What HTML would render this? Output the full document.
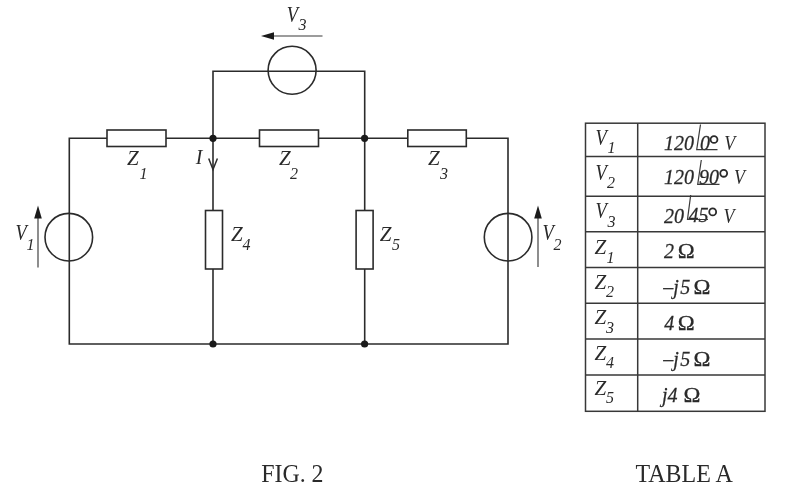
<!DOCTYPE html>
<html>
<head>
<meta charset="utf-8">
<title>FIG. 2 / TABLE A</title>
<style>
html,body{margin:0;padding:0;background:#fff;}
body{width:800px;height:497px;overflow:hidden;}
svg{display:block;will-change:transform;}
text{font-family:"Liberation Serif","Times New Roman",serif;fill:#2a2a2a;}
.i{font-style:italic;}
.w{stroke:#2b2b2b;stroke-width:1.6;fill:none;stroke-linecap:square;}
.r{stroke:#2b2b2b;stroke-width:1.6;fill:#fff;}
.t{stroke:#383838;stroke-width:1.5;fill:none;}
.a{stroke:#3a3a3a;stroke-width:1.15;fill:none;}
.ang{stroke:#3a3a3a;stroke-width:1.2;fill:none;}
.b{stroke:#2a2a2a;stroke-width:.25;}
</style>
</head>
<body>
<svg width="800" height="497" viewBox="0 0 800 497">
<rect width="800" height="497" fill="#fff"/>

<!-- wires -->
<path class="w" d="M69.3 138.3 H508 V344 H69.3 Z"/>
<path class="w" d="M213 138.3 V71.3 H364.7 V138.3"/>
<path class="w" d="M213 138.3 V344"/>
<path class="w" d="M364.7 138.3 V344"/>

<!-- sources -->
<circle class="w" cx="68.8" cy="237.2" r="23.8"/>
<circle class="w" cx="508.1" cy="237.2" r="23.8"/>
<circle class="w" cx="292.1" cy="70.3" r="24"/>

<!-- impedances -->
<rect class="r" x="107" y="130" width="59" height="16.5"/>
<rect class="r" x="259.5" y="130" width="59" height="16.5"/>
<rect class="r" x="407.8" y="130" width="58.5" height="16.5"/>
<rect class="r" x="205.5" y="210.5" width="17" height="58.5"/>
<rect class="r" x="356.1" y="210.5" width="17" height="58.5"/>

<!-- nodes -->
<circle cx="213" cy="138.3" r="3.6" fill="#1a1a1a"/>
<circle cx="364.6" cy="138.3" r="3.6" fill="#1a1a1a"/>
<circle cx="213" cy="344" r="3.6" fill="#1a1a1a"/>
<circle cx="364.6" cy="344" r="3.6" fill="#1a1a1a"/>

<!-- arrows -->
<path class="a" d="M38 267.5 V215"/>
<path d="M38 205.5 L34.2 218.5 H41.8 Z" fill="#1a1a1a"/>
<path class="a" d="M538 267 V215"/>
<path d="M538 205.5 L534.2 218.5 H541.8 Z" fill="#1a1a1a"/>
<path class="a" d="M322.5 36 H272"/>
<path d="M261 36 L274 32.3 V39.7 Z" fill="#1a1a1a"/>
<path d="M208.7 158.5 L213 169.5 L217.4 158.5" stroke="#2b2b2b" stroke-width="1.5" fill="none"/>

<!-- diagram labels -->
<text class="i" transform="translate(286.8 21.5) scale(0.88 1.05)" font-size="21">V</text>
<text class="i" x="298.5" y="30" font-size="16">3</text>

<text class="i" x="127" y="164.7" font-size="21">Z</text>
<text class="i" x="139.5" y="179" font-size="16">1</text>
<text class="i" x="279" y="164.5" font-size="21">Z</text>
<text class="i" x="290" y="179" font-size="16">2</text>
<text class="i" x="428" y="164.5" font-size="21">Z</text>
<text class="i" x="440" y="179" font-size="16">3</text>

<text class="i" x="195.7" y="163.8" font-size="20">I</text>

<text class="i" x="231" y="241" font-size="21">Z</text>
<text class="i" x="242.5" y="249.5" font-size="16">4</text>
<text class="i" x="379.7" y="241" font-size="21">Z</text>
<text class="i" x="392" y="249.5" font-size="16">5</text>

<text class="i" transform="translate(15.5 240) scale(0.88 1.05)" font-size="21">V</text>
<text class="i" x="26.5" y="249.5" font-size="16">1</text>
<text class="i" transform="translate(542.5 240) scale(0.88 1.05)" font-size="21">V</text>
<text class="i" x="553.5" y="249.5" font-size="16">2</text>

<!-- captions -->
<text transform="translate(261.2 482) scale(.995 1.02)" font-size="24">FIG. 2</text>
<text transform="translate(635.5 482) scale(1 1.005)" font-size="24">TABLE A</text>

<!-- table -->
<rect class="t" x="585.5" y="123.2" width="179.5" height="288.1"/>
<path class="t" d="M637.7 123.2 V411.3"/>
<path class="t" d="M585.5 156.5 H765 M585.5 196.2 H765 M585.5 231.8 H765 M585.5 267.5 H765 M585.5 303.2 H765 M585.5 339 H765 M585.5 375 H765"/>

<!-- table col 1 -->
<text class="i" transform="translate(595.5 145.2) scale(0.88 1.05)" font-size="21">V</text>
<text class="i" x="607.5" y="153.2" font-size="16">1</text>
<text class="i" transform="translate(595.5 180.4) scale(0.88 1.05)" font-size="21">V</text>
<text class="i" x="607" y="188.4" font-size="16">2</text>
<text class="i" transform="translate(595.5 218) scale(0.88 1.05)" font-size="21">V</text>
<text class="i" x="607.5" y="227" font-size="16">3</text>
<text class="i" x="594.5" y="253.8" font-size="21">Z</text>
<text class="i" x="606.5" y="263" font-size="16">1</text>
<text class="i" x="594.5" y="289" font-size="21">Z</text>
<text class="i" x="606" y="297" font-size="16">2</text>
<text class="i" x="594.5" y="324.3" font-size="21">Z</text>
<text class="i" x="606" y="332.5" font-size="16">3</text>
<text class="i" x="594.5" y="359.6" font-size="21">Z</text>
<text class="i" x="606" y="368.3" font-size="16">4</text>
<text class="i" x="594.5" y="394.6" font-size="21">Z</text>
<text class="i" x="606" y="403" font-size="16">5</text>

<!-- table col 2 -->
<text class="i b" transform="translate(664 150) scale(1 1.05)" font-size="20">120</text>
<text class="i b" transform="translate(700 150) scale(1 1.05)" font-size="20">0</text>
<circle cx="714" cy="139.5" r="3.45" stroke="#2a2a2a" stroke-width="1.8" fill="none"/>
<text class="i" transform="translate(724.3 150) scale(.9 1.06)" font-size="20">V</text>
<path class="ang" d="M700.5 124.5 L696.7 149.7 H717.5"/>
<text class="i b" transform="translate(664 184) scale(1 1.05)" font-size="20">120</text>
<text class="i b" transform="translate(699 184) scale(1 1.05)" font-size="20">90</text>
<circle cx="723.7" cy="173.3" r="3.45" stroke="#2a2a2a" stroke-width="1.8" fill="none"/>
<text class="i" transform="translate(734 184) scale(.9 1.06)" font-size="20">V</text>
<path class="ang" d="M701.3 160 L697.7 184.3 H719.5"/>
<text class="i b" transform="translate(664 222.5) scale(1 1.05)" font-size="20">20</text>
<text class="i b" transform="translate(688.5 222.2) scale(1 1.05)" font-size="20">45</text>
<circle cx="712.7" cy="211.9" r="3.45" stroke="#2a2a2a" stroke-width="1.8" fill="none"/>
<text class="i" transform="translate(723.5 222.5) scale(.9 1.06)" font-size="20">V</text>
<path class="ang" d="M690.7 195 L687.5 219.5 H708"/>
<text class="i b" transform="translate(664 258) scale(1 1.05)" font-size="20">2</text>
<text transform="translate(677.8 258) scale(1.06 1)" font-size="21.5" stroke="#2a2a2a" stroke-width=".3">Ω</text>
<text class="i b" transform="translate(663.3 294) scale(1 1.05)" font-size="20">–j</text>
<text class="i b" transform="translate(680.3 294) scale(1 1.05)" font-size="20">5</text>
<text transform="translate(693.6 294) scale(1.06 1)" font-size="21.5" stroke="#2a2a2a" stroke-width=".3">Ω</text>
<text class="i b" transform="translate(664.3 330) scale(1 1.05)" font-size="20">4</text>
<text transform="translate(677.8 330) scale(1.06 1)" font-size="21.5" stroke="#2a2a2a" stroke-width=".3">Ω</text>
<text class="i b" transform="translate(663.3 366) scale(1 1.05)" font-size="20">–j</text>
<text class="i b" transform="translate(680.3 366) scale(1 1.05)" font-size="20">5</text>
<text transform="translate(693.6 366) scale(1.06 1)" font-size="21.5" stroke="#2a2a2a" stroke-width=".3">Ω</text>
<text class="i b" transform="translate(662 402) scale(1 1.05)" font-size="20">j4</text>
<text transform="translate(683.6 402) scale(1.06 1)" font-size="21.5" stroke="#2a2a2a" stroke-width=".3">Ω</text>
</svg>
</body>
</html>
